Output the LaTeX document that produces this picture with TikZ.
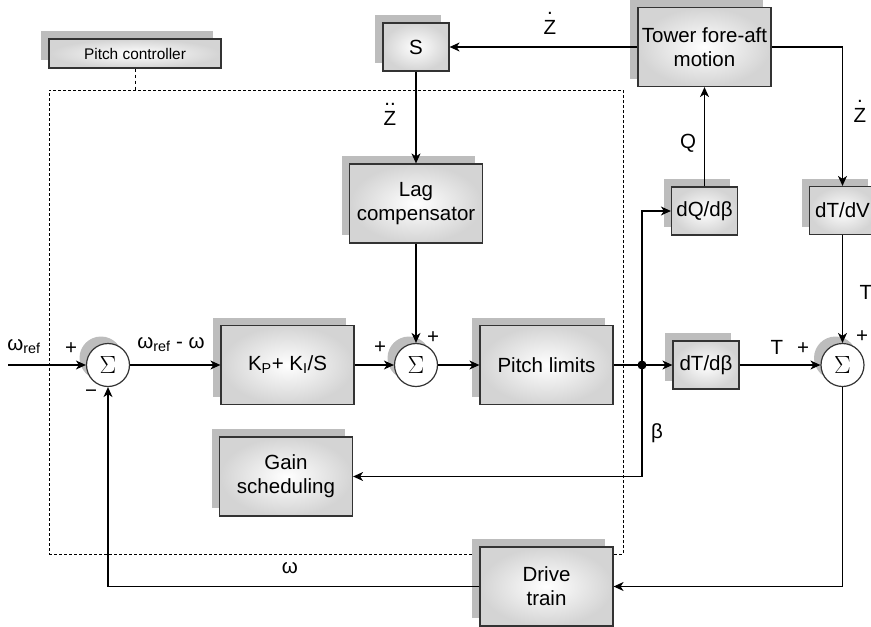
\documentclass[tikz,border=0pt]{standalone}
\usepackage{fontspec}
\setmainfont{Liberation Sans}
\usetikzlibrary{arrows.meta,shadows,calc}
\definecolor{boxedge}{HTML}{333333}
\definecolor{shadowgray}{HTML}{BDBDBD}
\newcommand{\zacc}[1]{\ooalign{Z\cr\hidewidth\raisebox{0.95em}{#1}\hidewidth\cr}}

\begin{document}
\begin{tikzpicture}[x=1pt,y=-1pt,
    font=\fontsize{20.5}{24}\selectfont,
    line width=1.2pt,
    >={Stealth[length=10pt,width=9pt,inset=3pt]},
    blk/.style={draw=boxedge, shading=radial, inner color=white, outer color=black!17,
      drop shadow={shadow xshift=-8pt, shadow yshift=8pt, fill=shadowgray, opacity=1},
      minimum width=133pt, minimum height=79pt, align=center, inner sep=0pt},
    smallblk/.style={blk, minimum width=66pt, minimum height=48pt},
    sumnode/.style={circle, draw=boxedge, fill=white, minimum size=43pt, inner sep=0pt,
      font=\fontsize{24}{24}\selectfont,
      drop shadow={shadow xshift=-7pt, shadow yshift=7pt, fill=shadowgray, opacity=1}},
    pcbox/.style={blk, minimum width=172pt, minimum height=29pt, font=\fontsize{15.4}{18}\selectfont},
    area/.style={draw, densely dashed, line width=0.8pt, minimum width=574pt, minimum height=464pt}]
  \clip (0,0) rectangle (871,627);
  % Controller area
  \node[area] (ctrlarea) at (336,322) {};
  \node[pcbox] (pctrl) at (135,53.5) {Pitch controller};
  \draw[dashed, line width=1pt] (pctrl.south) -- (pctrl.south |- ctrlarea.north);
  % Blocks
  \node[sumnode] (sum1) at (108,365) {$\Sigma$};
  \node[blk] (kpi) at (287.5,365) {K\textsubscript{P}+ K\textsubscript{I}/S};
  \node[sumnode] (sum2) at (416,365) {$\Sigma$};
  \node[blk] (plim) at (546.5,365) {Pitch limits};
  \node[smallblk] (dtdb) at (706,365) {dT/dβ};
  \node[sumnode] (sum3) at (842.5,365) {$\Sigma$};
  \node[blk] (lag) at (416,203.5) {Lag\\compensator};
  \node[smallblk] (sblk) at (416,47) {S};
  \node[blk] (tower) at (704.5,47) {Tower fore-aft\\motion};
  \node[smallblk] (dqdb) at (704.5,211) {dQ/dβ};
  \node[smallblk] (dtdv) at (842.5,210.5) {dT/dV};
  \node[blk] (gain) at (286,476.5) {Gain\\scheduling};
  \node[blk] (drive) at (546.5,586.5) {Drive\\train};
  % Signals
  \coordinate (inp) at (8,365);
  \coordinate (br) at (642,365);
  \draw[->] (inp) -- (sum1);
  \draw[->] (sum1) -- (kpi);
  \draw[->] (kpi) -- (sum2);
  \draw[->] (sum2) -- (plim);
  \draw (plim) -- (br);
  \draw[->] (br) -- (dtdb);
  \draw[->] (br) |- (dqdb);
  \draw[->] (br) |- (gain);
  \fill (br) circle (4.5pt);
  \draw[->] (dtdb) -- (sum3);
  \draw[->] (dqdb) -- (tower);
  \draw[->] (tower) -- (sblk);
  \draw[->] (sblk) -- (lag);
  \draw[->] (lag) -- (sum2);
  \draw[->] (tower.east) -| (dtdv);
  \draw[->] (dtdv) -- (sum3);
  \draw[->] (sum3) |- (drive);
  \draw[->] (drive) -| (sum1);
  % Labels
  \node[anchor=base] (wref) at (24,350) {ω\textsubscript{ref}};
  \node[anchor=base] (werr) at (171,348) {ω\textsubscript{ref} - ω};
  \node (p1) at (71,349) {+};
  \node (m1) at (91,394) {−};
  \node (p2) at (380,348) {+};
  \node (p3) at (433,338) {+};
  \node (p4) at (803,349) {+};
  \node (p5) at (862,337) {+};
  \node[anchor=base, inner sep=0pt] (zdd) at (390,125) {\zacc{..}};
  \node[anchor=base, inner sep=0pt] (zd1) at (550,34) {\zacc{.}};
  \node[anchor=base, inner sep=0pt] (zd2) at (860,122) {\zacc{.}};
  \node (qlab) at (688,143) {Q};
  \node (tlab1) at (777,347) {T};
  \node (tlab2) at (866,292) {T};
  \node (blab) at (657,433) {β};
  \node (wlab) at (290,568) {ω};
\end{tikzpicture}
\end{document}
